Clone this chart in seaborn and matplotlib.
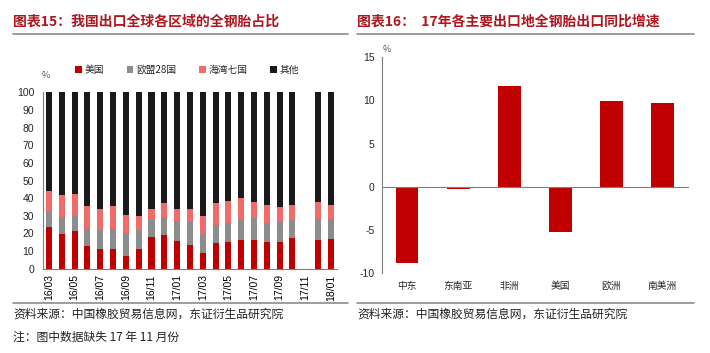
import matplotlib
matplotlib.use("Agg")
import matplotlib.pyplot as plt
import matplotlib.transforms as mtransforms
from matplotlib.lines import Line2D
from matplotlib.patches import Patch
import seaborn as sns
import pandas as pd
import numpy as np

sns.set_theme(style="white")
plt.rcParams['font.family'] = ['Noto Sans CJK SC', 'DejaVu Sans']
plt.rcParams['axes.unicode_minus'] = False

# ---------------- data ----------------
months = ["16/03", "16/04", "16/05", "16/06", "16/07", "16/08", "16/09", "16/10",
          "16/11", "16/12", "17/01", "17/02", "17/03", "17/04", "17/05", "17/06",
          "17/07", "17/08", "17/09", "17/10", "17/11", "17/12", "18/01"]
usa = [23.4, 19.5, 21.6, 13.0, 11.2, 11.0, 7.4, 11.0, 18.1, 18.9, 15.9, 13.6,
       9.1, 14.4, 14.9, 16.1, 16.4, 14.9, 15.1, 17.4, np.nan, 16.4, 17.0]
eu28 = [9.5, 9.6, 8.3, 9.3, 10.7, 11.5, 12.6, 10.9, 9.5, 10.6, 10.9, 13.1,
        10.6, 10.6, 11.2, 11.7, 12.3, 11.2, 11.2, 10.2, np.nan, 12.0, 11.0]
gulf7 = [11.1, 12.5, 12.3, 13.0, 11.7, 12.8, 10.4, 8.0, 6.4, 7.9, 7.0, 7.1,
         10.2, 12.4, 12.5, 12.3, 9.3, 9.8, 8.5, 8.5, np.nan, 9.4, 8.3]
other = [100 - a - b - c for a, b, c in zip(usa, eu28, gulf7)]
series_names = ["美国", "欧盟28国", "海湾七国", "其他"]
series_colors = ["#C00000", "#8C8C8C", "#F26B6B", "#1A1A1A"]

regions = ["中东", "东南亚", "非洲", "美国", "欧洲", "南美洲"]
growth = [-8.8, -0.3, 11.7, -5.25, 9.9, 9.75]

title_left = "图表15：我国出口全球各区域的全钢胎占比"
title_right = "图表16：  17年各主要出口地全钢胎出口同比增速"
source_text = "资料来源：中国橡胶贸易信息网，东证衍生品研究院"
note_text = "注：图中数据缺失 17 年 11 月份"

title_color = "#B0161E"
axis_color = "#7F7F7F"

fig = plt.figure(figsize=(7.10, 3.53), dpi=100)

# ---------------- left: stacked bars ----------------
axL = fig.add_axes([0.060, 0.2388, 0.415, 0.4997])
df = pd.DataFrame({"month": months, "美国": usa, "欧盟28国": eu28,
                   "海湾七国": gulf7, "其他": other})
cum = np.zeros(len(months))
cums = []
for name in series_names:
    cum = cum + df[name].fillna(0).to_numpy()
    cums.append(cum.copy())
for (name, color, c) in reversed(list(zip(series_names, series_colors, cums))):
    sns.barplot(x=df["month"], y=c, color=color, width=0.47, ax=axL,
                order=months, saturation=1, linewidth=0)

axL.set_xlim(-0.5, len(months) - 0.5)
axL.set_ylim(0, 100)
axL.set_yticks(np.arange(0, 101, 10))
axL.set_xlabel("")
axL.set_ylabel("")
axL.set_xticks(range(len(months)))
axL.set_xticklabels([m if i % 2 == 0 else "" for i, m in enumerate(months)],
                    rotation=90, fontsize=7.5, family=["Liberation Sans", "DejaVu Sans"])
axL.tick_params(axis="x", length=0, pad=4, colors="#000000")
axL.tick_params(axis="y", labelsize=7.5, length=0, pad=6)
for lab in axL.get_yticklabels():
    lab.set_family(["Liberation Sans", "DejaVu Sans"])
for s in ["top", "right"]:
    axL.spines[s].set_visible(False)
for s in ["left", "bottom"]:
    axL.spines[s].set_color(axis_color)
    axL.spines[s].set_linewidth(0.8)
axL.text(46 / 710, 1 - 75 / 353, "%", transform=fig.transFigure, fontsize=6.5,
         color="#555555", ha="center", va="center")
handles = [Patch(facecolor=c, edgecolor="none") for c in series_colors]
fig.legend(handles, series_names, loc="center", bbox_to_anchor=(187 / 710, 1 - 70 / 353),
           ncol=4, frameon=False, fontsize=7, handlelength=0.7, handleheight=0.7,
           handletextpad=0.3, columnspacing=2.3)

# ---------------- right: growth bars ----------------
axR = fig.add_axes([0.5376, 0.2266, 0.4314, 0.611])
dfr = pd.DataFrame({"region": regions, "growth": growth})
sns.barplot(data=dfr, x="region", y="growth", color="#C00000", width=0.44,
            ax=axR, saturation=1, linewidth=0)
axR.set_xlim(-0.5, len(regions) - 0.5)
axR.set_ylim(-10, 15)
axR.set_yticks([-10, -5, 0, 5, 10, 15])
axR.set_xlabel("")
axR.set_ylabel("")
axR.spines["bottom"].set_position(("data", 0))
axR.set_xticks(np.arange(len(regions)) + 0.5)
axR.set_xticklabels([])
axR.tick_params(axis="x", length=3, direction="inout", color=axis_color, width=0.6)
axR.tick_params(axis="y", labelsize=7.5, length=3, direction="in", color=axis_color, pad=5)
for lab in axR.get_yticklabels():
    lab.set_family(["Liberation Sans", "DejaVu Sans"])
for s in ["top", "right"]:
    axR.spines[s].set_visible(False)
for s in ["left", "bottom"]:
    axR.spines[s].set_color(axis_color)
    axR.spines[s].set_linewidth(0.8)
trans = mtransforms.blended_transform_factory(axR.transData, axR.transAxes)
for i, r in enumerate(regions):
    axR.text(i, -0.06, r, transform=trans, ha="center", va="center", fontsize=7)
fig.text(387 / 710, 1 - 50 / 353, "%", fontsize=6.5, color="#555555",
         ha="center", va="center")

# ---------------- titles, rules, sources ----------------
fig.text(13 / 710, 1 - 22 / 353, title_left, fontsize=10, fontweight="bold",
         color=title_color, ha="left", va="center")
fig.text(357 / 710, 1 - 22 / 353, title_right, fontsize=10, fontweight="bold",
         color=title_color, ha="left", va="center")
for (x0, x1) in [(13, 348), (357, 694)]:
    for y in (34, 303):
        fig.add_artist(Line2D([x0 / 710, x1 / 710], [1 - y / 353, 1 - y / 353],
                              transform=fig.transFigure, color="#8C8C8C", lw=1.2))
fig.text(13 / 710, 1 - 314 / 353, source_text, fontsize=8.5, ha="left", va="center",
         color="#222222")
fig.text(13 / 710, 1 - 337 / 353, note_text, fontsize=8.5, ha="left", va="center",
         color="#222222")
fig.text(357 / 710, 1 - 314 / 353, source_text, fontsize=8.5, ha="left", va="center",
         color="#222222")

fig.savefig("out.png", dpi=100)
